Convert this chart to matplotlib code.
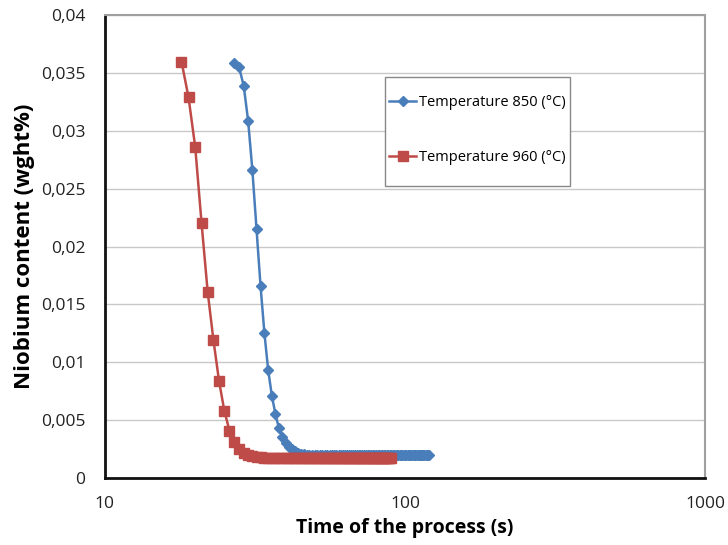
import matplotlib
matplotlib.use("Agg")
import matplotlib.pyplot as plt
from matplotlib.patches import Rectangle
from matplotlib.ticker import FuncFormatter, FixedLocator, NullLocator

# ── data ─────────────────────────────────────────────────────────────────────

t_850 = [27, 28, 29, 30, 31, 32, 33, 34, 35, 36, 37, 38, 39, 40, 41, 42, 43,
         44, 45, 46, 47, 48, 49, 50, 51, 52, 53, 54, 55, 56, 57, 58, 59, 60,
         61, 62, 63, 64, 65, 66, 67, 68, 69, 70, 71, 72, 73, 74, 75, 76, 77,
         78, 79, 80, 81, 82, 83, 84, 85, 86, 87, 88, 89, 90, 91, 92, 93, 94,
         95, 96, 97, 98, 99, 100, 101, 102, 103, 104, 105, 106, 107, 108, 109,
         110, 111, 112, 113, 114, 115, 116, 117, 118, 119, 120]
nb_850 = [0.0359, 0.0355, 0.0339, 0.0309, 0.0266, 0.0215, 0.0166, 0.0125,
          0.0093, 0.0071, 0.0055, 0.0043, 0.0035, 0.0030, 0.0027, 0.0025,
          0.0023, 0.0022, 0.0021, 0.0021, 0.0020, 0.0020, 0.0020, 0.0020,
          0.0020, 0.0020, 0.0020, 0.0020, 0.0020, 0.0020, 0.0020, 0.0020,
          0.0020, 0.0020, 0.0020, 0.0020, 0.0020, 0.0020, 0.0020, 0.0020,
          0.0020, 0.0020, 0.0020, 0.0020, 0.0020, 0.0020, 0.0020, 0.0020,
          0.0020, 0.0020, 0.0020, 0.0020, 0.0020, 0.0020, 0.0020, 0.0020,
          0.0020, 0.0020, 0.0020, 0.0020, 0.0020, 0.0020, 0.0020, 0.0020,
          0.0020, 0.0020, 0.0020, 0.0020, 0.0020, 0.0020, 0.0020, 0.0020,
          0.0020, 0.0020, 0.0020, 0.0020, 0.0020, 0.0020, 0.0020, 0.0020,
          0.0020, 0.0020, 0.0020, 0.0020, 0.0020, 0.0020, 0.0020, 0.0020,
          0.0020, 0.0020, 0.0020, 0.0020, 0.0020, 0.0020]

t_960 = [18, 19, 20, 21, 22, 23, 24, 25, 26, 27, 28, 29, 30, 31, 32, 33, 34,
         35, 36, 37, 38, 39, 40, 41, 42, 43, 44, 45, 46, 47, 48, 49, 50, 51,
         52, 53, 54, 55, 56, 57, 58, 59, 60, 61, 62, 63, 64, 65, 66, 67, 68,
         69, 70, 71, 72, 73, 74, 75, 76, 77, 78, 79, 80, 81, 82, 83, 84, 85,
         86, 87, 88, 89, 90]
nb_960 = [0.0360, 0.0329, 0.0286, 0.0220, 0.0161, 0.0119, 0.0084, 0.0058,
          0.0041, 0.0031, 0.0025, 0.0022, 0.0020, 0.0019, 0.0018, 0.0018,
          0.0017, 0.0017, 0.0017, 0.0017, 0.0017, 0.0017, 0.0017, 0.0017,
          0.0017, 0.0017, 0.0017, 0.0017, 0.0017, 0.0017, 0.0017, 0.0017,
          0.0017, 0.0017, 0.0017, 0.0017, 0.0017, 0.0017, 0.0017, 0.0017,
          0.0017, 0.0017, 0.0017, 0.0017, 0.0017, 0.0017, 0.0017, 0.0017,
          0.0017, 0.0017, 0.0017, 0.0017, 0.0017, 0.0017, 0.0017, 0.0017,
          0.0017, 0.0017, 0.0017, 0.0017, 0.0017, 0.0017, 0.0017, 0.0017,
          0.0017, 0.0017, 0.0017, 0.0017, 0.0017, 0.0017, 0.0017, 0.0017,
          0.0017]

y_ticks = [0, 0.005, 0.01, 0.015, 0.02, 0.025, 0.03, 0.035, 0.04]
x_ticks = [10, 100, 1000]

label_850 = "Temperature 850 (°C)"
label_960 = "Temperature 960 (°C)"

# ── plot ─────────────────────────────────────────────────────────────────────

plt.rcParams["font.family"] = ["Open Sans", "DejaVu Sans"]

fig = plt.figure(figsize=(7.28, 5.45), dpi=100)
ax = fig.add_axes([0.144, 0.123, 0.825, 0.849])

blue = "#4a7ebb"
red = "#be4b48"

ax.plot(t_850, nb_850, color=blue, marker="D", markersize=5,
        linewidth=1.8, label=label_850, zorder=3)
ax.plot(t_960, nb_960, color=red, marker="s", markersize=7,
        linewidth=1.8, label=label_960, zorder=3)

ax.set_xscale("log")
ax.set_xlim(10, 1000)
ax.set_ylim(0, 0.04)

ax.xaxis.set_major_locator(FixedLocator(x_ticks))
ax.xaxis.set_minor_locator(NullLocator())
ax.xaxis.set_major_formatter(FuncFormatter(lambda v, p: f"{v:g}"))
ax.yaxis.set_major_locator(FixedLocator(y_ticks))
ax.yaxis.set_major_formatter(
    FuncFormatter(lambda v, p: "0" if v == 0 else f"{v:g}".replace(".", ",")))

ax.tick_params(axis="both", length=0, labelsize=12.5, colors="#222222")
ax.tick_params(axis="x", pad=13)
ax.tick_params(axis="y", pad=14)

ax.grid(True, axis="y", color="#c8c8c8", linewidth=1.0, zorder=0)
ax.set_axisbelow(True)

for side in ("left", "bottom"):
    ax.spines[side].set_color("#111111")
    ax.spines[side].set_linewidth(2.0)
for side in ("top", "right"):
    ax.spines[side].set_color("#a0a0a0")
    ax.spines[side].set_linewidth(1.5)

ax.set_xlabel("Time of the process (s)", fontsize=14, fontweight="bold",
              labelpad=4)
ax.set_ylabel("Niobium content (wght%)", fontsize=16, fontweight="bold",
              labelpad=4)

# legend: entries without frame, box drawn separately (Excel-style padding)
fig.patches.append(Rectangle((0.529, 0.659), 0.254, 0.200,
                             transform=fig.transFigure, facecolor="white",
                             edgecolor="#888888", linewidth=1.0, zorder=4))
leg = fig.legend(loc="center left", bbox_to_anchor=(0.535, 0.761),
                 fontsize=10.5, frameon=False, labelspacing=2.75,
                 borderpad=0, handlelength=1.85, handletextpad=0.15,
                 borderaxespad=0)
leg.set_zorder(5)

fig.savefig("out.png", dpi=100)
